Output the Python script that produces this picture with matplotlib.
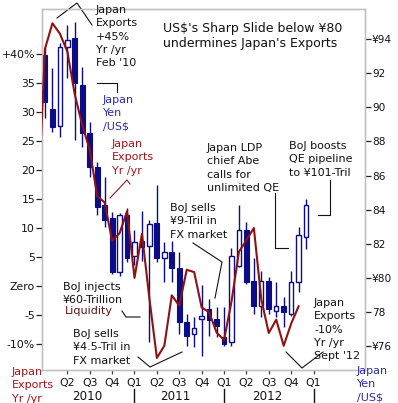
import matplotlib
matplotlib.use("Agg")
import matplotlib.pyplot as plt
import matplotlib.transforms as mtransforms
from matplotlib.lines import Line2D
import numpy as np

W, H = 398, 403

# ---------------- data ----------------
months = [f"{m} {y}" for y in (2010, 2011, 2012)
          for m in ("Jan", "Feb", "Mar", "Apr", "May", "Jun",
                    "Jul", "Aug", "Sep", "Oct", "Nov", "Dec")]
yen_open = [93.07, 89.91, 88.92, 93.53, 94.06, 91.31, 88.51, 86.52, 84.30, 83.54, 80.33, 83.72,
            81.26, 82.14, 81.85, 83.25, 81.20, 81.55, 80.56, 77.41, 76.70, 77.60, 78.17, 77.58,
            76.53, 76.24, 80.68, 82.84, 79.80, 78.34, 79.80, 78.05, 78.34, 77.87, 79.74, 82.43]
yen_high = [93.53, 92.31, 93.77, 94.82, 95.00, 92.37, 89.15, 86.81, 85.94, 83.89, 83.83, 84.13,
            82.84, 83.90, 83.42, 85.47, 82.08, 82.14, 81.50, 77.87, 77.70, 79.61, 78.75, 78.28,
            78.28, 81.73, 84.30, 83.31, 81.20, 80.39, 80.04, 79.74, 78.87, 80.39, 82.96, 84.65]
yen_low = [89.39, 88.57, 88.28, 91.72, 88.10, 87.69, 85.94, 83.72, 82.96, 80.21, 80.09, 80.91,
           80.79, 81.00, 76.24, 80.91, 79.74, 79.74, 76.70, 76.00, 75.95, 75.42, 76.59, 76.53,
           76.00, 76.00, 80.62, 79.63, 77.87, 77.70, 77.87, 77.70, 77.11, 77.76, 79.16, 81.67]
yen_close = [90.32, 88.86, 93.53, 93.94, 91.43, 88.51, 86.52, 84.18, 83.42, 80.33, 83.72, 81.20,
             82.08, 81.79, 83.19, 81.20, 81.55, 80.56, 77.41, 76.59, 77.05, 77.75, 77.53, 77.17,
             76.12, 81.26, 82.84, 79.74, 78.34, 79.80, 78.17, 78.34, 77.99, 79.74, 82.49, 84.30]

export_months = ["Dec 2009"] + months[:-1]
exports_yoy = [12.1, 40.9, 45.3, 43.5, 40.4, 33.0, 27.7, 23.5, 15.5, 14.4, 7.8, 9.1, 12.9,
               1.4, 9.0, -2.2, -12.4, -10.3, -1.6, -3.4, 2.8, 2.4, -3.7, -4.5, -8.0,
               -9.3, -2.7, 5.9, 7.9, 10.0, -2.3, -8.1, -5.8, -10.3, -6.5, -3.5]

left_ticks = [40, 35, 30, 25, 20, 15, 10, 5, 0, -5, -10]
left_tick_labels = ["+40%", "35", "30", "25", "20", "15", "10", "5", "Zero", "-5", "-10%"]
right_ticks = [94, 92, 90, 88, 86, 84, 82, 80, 78, 76]
right_tick_labels = ["\u00a594", "92", "90", "88", "86", "84", "82", "\u00a580", "78", "\u00a576"]
quarter_labels = ["Q2", "Q3", "Q4", "Q1", "Q2", "Q3", "Q4", "Q1", "Q2", "Q3", "Q4", "Q1"]
year_labels = ["2010", "2011", "2012"]

# ---------------- style ----------------
NAVY = "#0c0c86"
RED = "#8e1212"
TXT_RED = "#a0161a"
TXT_BLUE = "#2b2ba6"
GRAY = "#c2c2c2"

plt.rcParams["font.family"] = ["DejaVu Sans"]

fig = plt.figure(figsize=(W / 100, H / 100), dpi=100)
fig.patch.set_facecolor("white")
ax = fig.add_axes([42 / W, 1 - 370 / H, (365 - 42) / W, (370 - 9) / H])
ax2 = ax.twinx()

# candles on right axis (yen)
x_c = np.arange(len(months))
o = np.array(yen_open); c = np.array(yen_close)
hi = np.array(yen_high); lo = np.array(yen_low)
up = c >= o
ax2.vlines(x_c, lo, hi, color=NAVY, lw=1.0, zorder=1)
ax2.bar(x_c[~up], (o - c)[~up], bottom=c[~up], width=0.64, color=NAVY,
        edgecolor=NAVY, lw=0.8, zorder=2)
ax2.bar(x_c[up], (c - o)[up], bottom=o[up], width=0.58, color="white",
        edgecolor=NAVY, lw=1.0, zorder=2)

# exports line on left axis
x_e = np.arange(len(export_months)) - 1
ax.plot(x_e, exports_yoy, color=RED, lw=1.5, zorder=3, solid_joinstyle="round")

ax.set_zorder(2); ax2.set_zorder(1)
ax.patch.set_visible(False)

ax.set_xlim(-0.40, 42.9)
ax.set_ylim(-14.48, 47.76)
ax2.set_ylim(74.61, 95.76)

for a in (ax, ax2):
    for s in a.spines.values():
        s.set_color(GRAY)
        s.set_linewidth(1.0)

ax.set_yticks(left_ticks)
ax.set_yticklabels(left_tick_labels)
ax.tick_params(axis="y", length=4, width=0.9, color="#222222", pad=1,
               labelsize=7.8, labelcolor="#111111")
ax2.set_yticks(right_ticks)
ax2.set_yticklabels(right_tick_labels)
ax2.tick_params(axis="y", length=4, width=0.9, color="#222222", pad=1,
                labelsize=7.6, labelcolor="#111111")
ax.set_xticks([3 * (k + 1) for k in range(len(quarter_labels))])
ax.set_xticklabels(quarter_labels)
ax.tick_params(axis="x", length=3, width=0.9, color="#444444", pad=3,
               labelsize=7.8, labelcolor="#111111")

# year labels and separators below the axis
blend = mtransforms.blended_transform_factory(ax.transData, fig.transFigure)
for k, (lab, xp) in enumerate(zip(year_labels, (5.6, 17.5, 29.8))):
    fig.text(xp, 1 - 396 / H, lab, transform=blend, ha="center", va="center",
             fontsize=8.6, color="#111111")
for xs in (12, 24, 36):
    fig.add_artist(Line2D([xs, xs], [1 - 389 / H, 1 - 403 / H], transform=blend,
                          color="#111111", lw=1.0))


def ftxt(x, y, s, color="#111111", size=8.0, ls=1.42):
    fig.text(x / W, 1 - y / H, s, ha="left", va="top", fontsize=size,
             color=color, linespacing=ls)


def fline(pts, color="#111111", lw=0.8):
    fig.add_artist(Line2D([p[0] / W for p in pts], [1 - p[1] / H for p in pts],
                          transform=fig.transFigure, color=color, lw=lw))


ftxt(96, 5, "Japan\nExports\n+45%\nYr /yr\nFeb '10")
fline([(57, 18), (77, 3), (92, 25)])
ftxt(163, 22, "US$'s Sharp Slide below \u00a580\nundermines Japan's Exports", size=9.0, ls=1.2)
ftxt(103, 95, "Japan\nYen\n/US$", color=TXT_BLUE)
fline([(97, 83), (117, 83), (117, 92)])
ftxt(112, 139, "Japan\nExports\nYr /yr", color=TXT_RED)
fline([(110, 198), (127, 180), (130, 184)], color=TXT_RED)
ftxt(170, 203, "BoJ sells\n\u00a59-Tril in\nFX market")
fline([(193, 243), (222, 262), (215, 298)])
ftxt(207, 143, "Japan LDP\nchief Abe\ncalls for\nunlimited QE")
fline([(275, 193), (275, 248), (288, 248)])
ftxt(289, 141, "BoJ boosts\nQE pipeline\nto \u00a5101-Tril")
fline([(330, 180), (330, 215), (318, 215)])
ftxt(63, 282, "BoJ injects\n\u00a560-Trillion")
ftxt(65, 306, "Liquidity", color="#5a1616")
fline([(122, 311), (126, 317), (140, 317)])
ftxt(73, 329, "BoJ sells\n\u00a54.5-Tril in\nFX market")
fline([(138, 357), (150, 367), (182, 352)])
ftxt(314, 298, "Japan\nExports\n-10%\nYr /yr\nSept '12")
fline([(286, 352), (302, 368), (323, 352)])
ftxt(12, 367, "Japan\nExports\nYr /yr", color=TXT_RED)
ftxt(357, 366, "Japan\nYen\n/US$", color=TXT_BLUE)

fig.savefig("out.png", dpi=100, facecolor="white")
